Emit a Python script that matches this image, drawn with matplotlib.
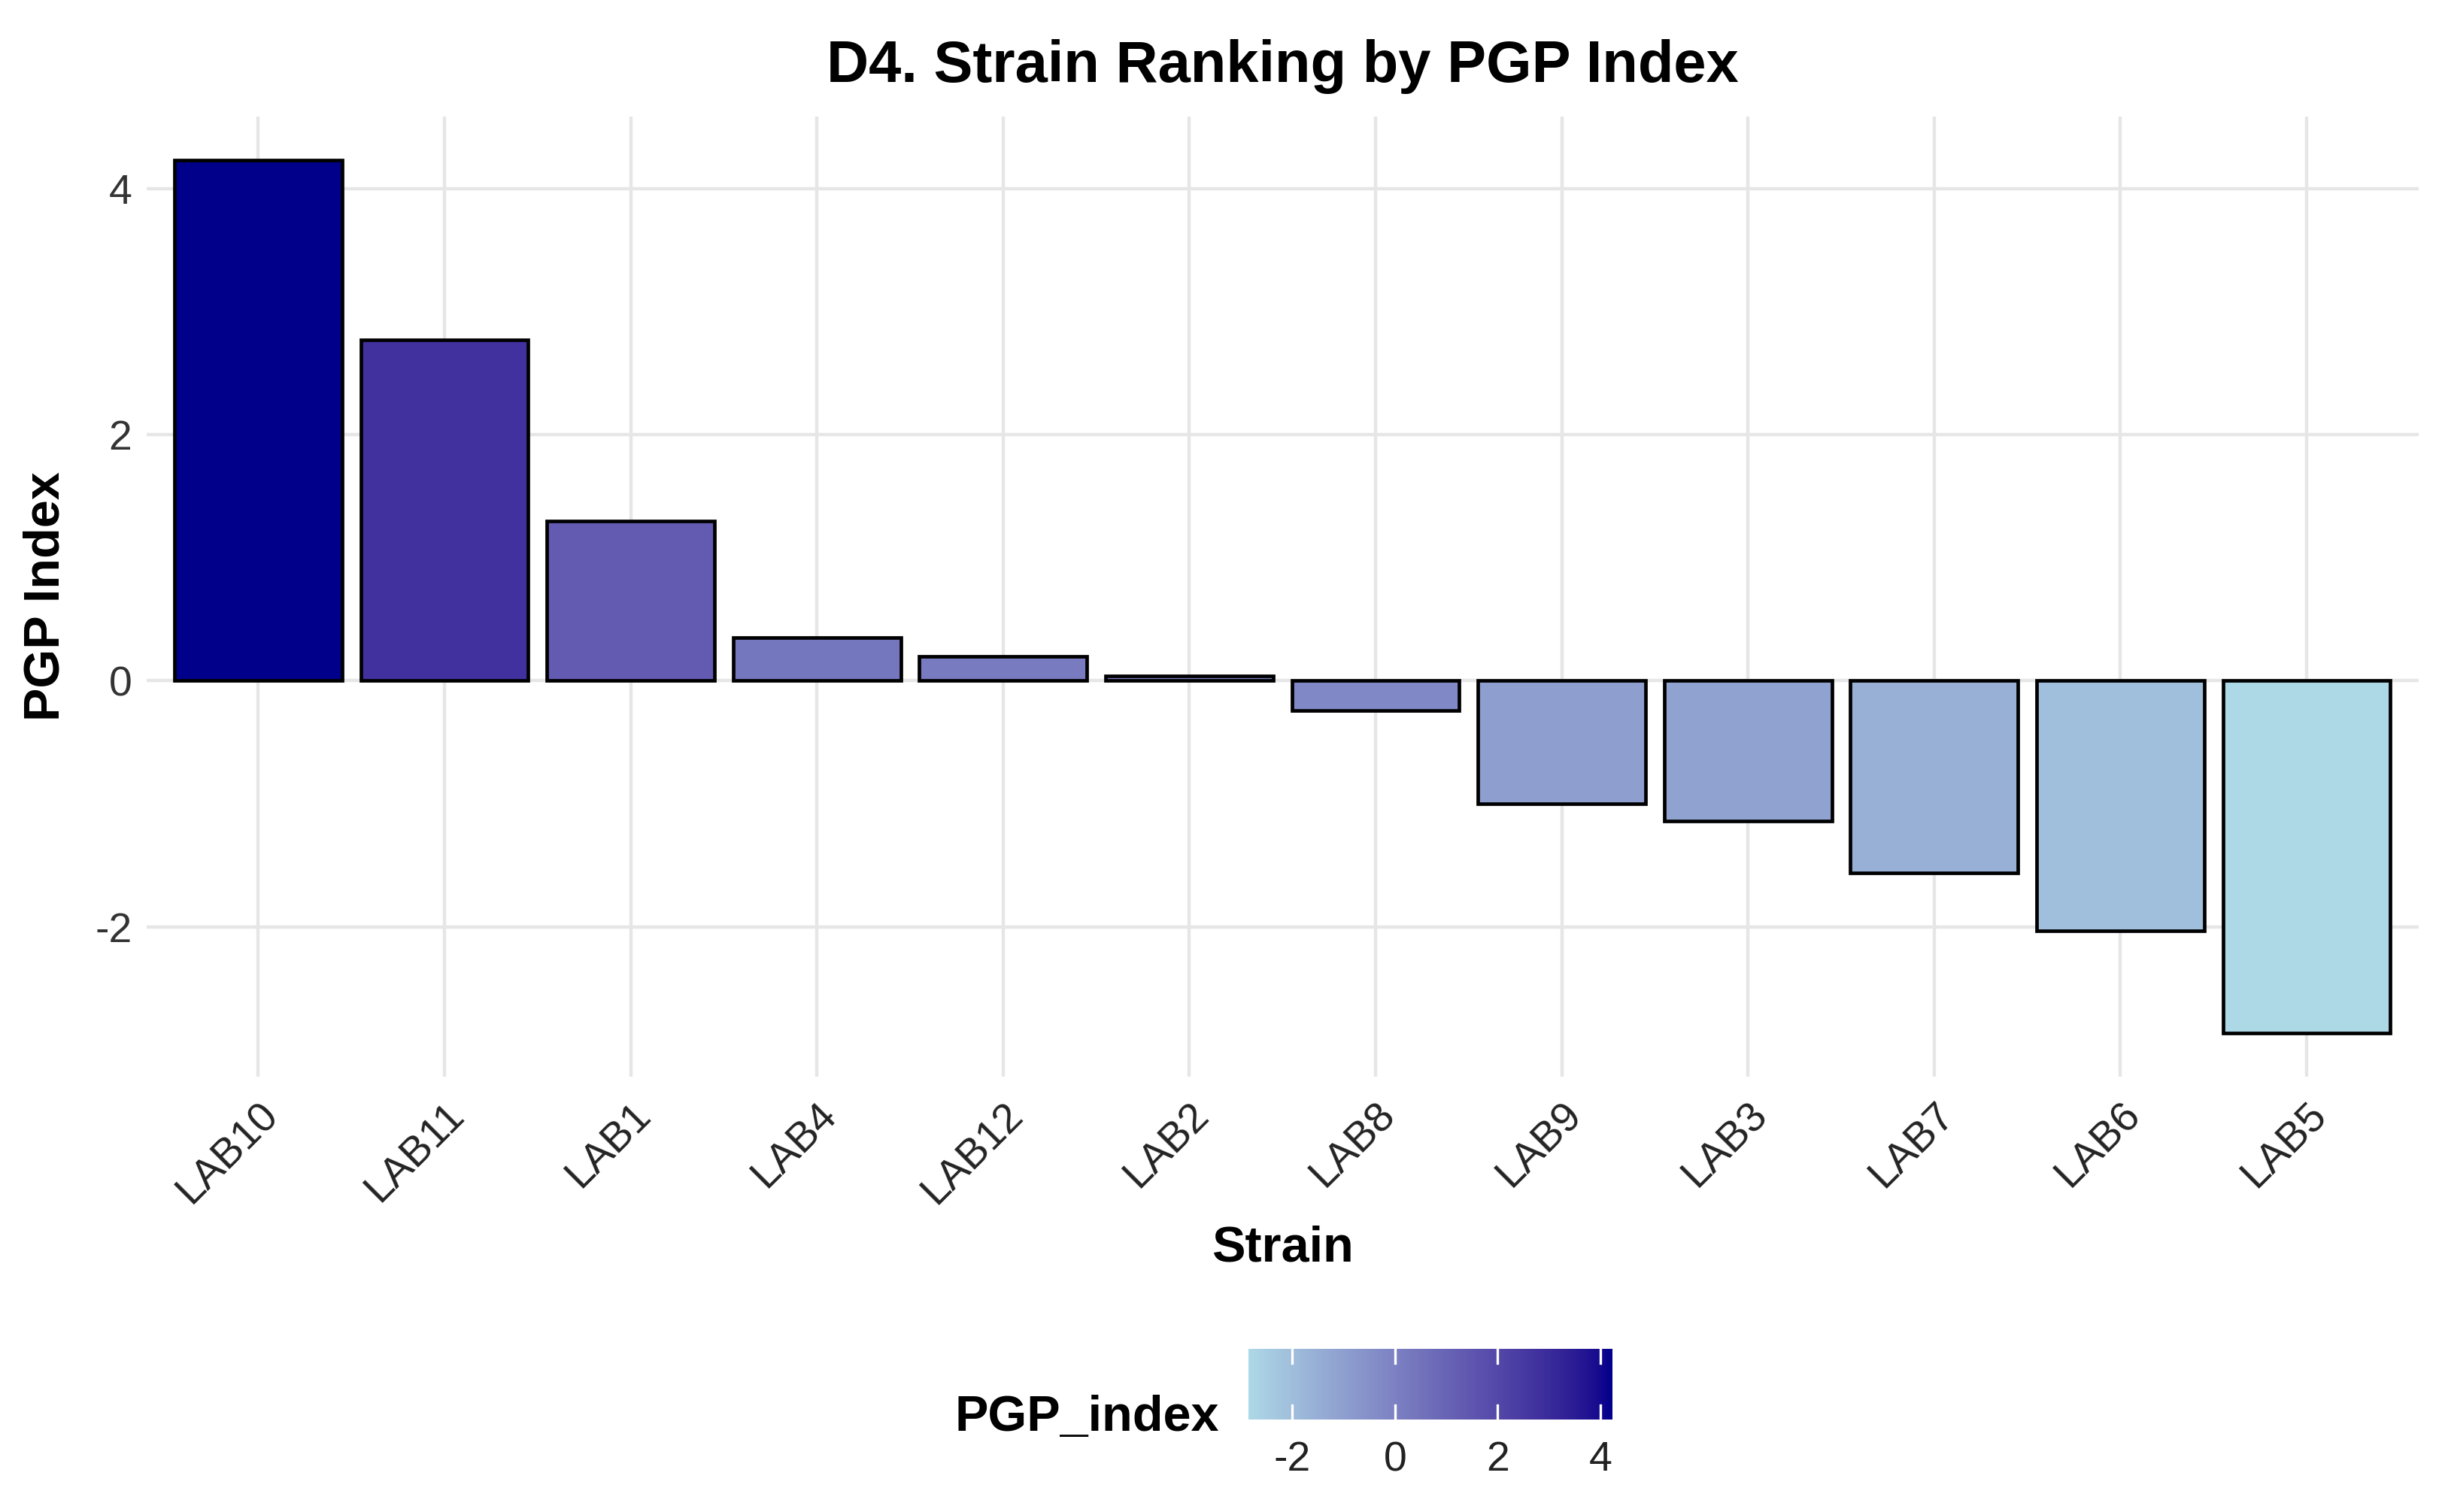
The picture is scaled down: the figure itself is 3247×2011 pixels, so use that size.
import numpy as np
import matplotlib
matplotlib.use('Agg')
import matplotlib.pyplot as plt
from matplotlib.colors import ListedColormap, Normalize, to_rgb
from matplotlib.cm import ScalarMappable

plt.rcParams['font.family'] = ['Liberation Sans', 'DejaVu Sans']

# data
strains = ['LAB10', 'LAB11', 'LAB1', 'LAB4', 'LAB12', 'LAB2',
           'LAB8', 'LAB9', 'LAB3', 'LAB7', 'LAB6', 'LAB5']
pgp_index = [4.23, 2.77, 1.30, 0.35, 0.20, 0.04,
             -0.24, -1.00, -1.14, -1.56, -2.03, -2.86]
y_ticks = [-2, 0, 2, 4]
y_tick_labels = ['-2', '0', '2', '4']


# ggplot style gradient: interpolate lightblue -> darkblue in CIELAB
def srgb_to_lab(c):
    c = np.asarray(c, float)
    lin = np.where(c <= 0.04045, c / 12.92, ((c + 0.055) / 1.055) ** 2.4)
    M = np.array([[0.4124, 0.3576, 0.1805],
                  [0.2126, 0.7152, 0.0722],
                  [0.0193, 0.1192, 0.9505]])
    xyz = M @ lin / np.array([0.95047, 1.0, 1.08883])
    f = np.where(xyz > 0.008856, np.cbrt(xyz), 7.787 * xyz + 16 / 116)
    return np.array([116 * f[1] - 16, 500 * (f[0] - f[1]), 200 * (f[1] - f[2])])


def lab_to_srgb(lab):
    L, a, b = lab
    fy = (L + 16) / 116
    fx = fy + a / 500
    fz = fy - b / 200
    f = np.array([fx, fy, fz])
    xyz = np.where(f ** 3 > 0.008856, f ** 3, (f - 16 / 116) / 7.787)
    xyz = xyz * np.array([0.95047, 1.0, 1.08883])
    Mi = np.array([[3.2406, -1.5372, -0.4986],
                   [-0.9689, 1.8758, 0.0415],
                   [0.0557, -0.2040, 1.0570]])
    lin = Mi @ xyz
    c = np.where(lin <= 0.0031308, 12.92 * lin, 1.055 * np.clip(lin, 0, None) ** (1 / 2.4) - 0.055)
    return np.clip(c, 0, 1)


lo = srgb_to_lab(to_rgb('#ADD8E6'))
hi = srgb_to_lab(to_rgb('#00008B'))
cols = [lab_to_srgb(lo + (hi - lo) * t) for t in np.linspace(0, 1, 256)]
cmap = ListedColormap(cols)
norm = Normalize(vmin=min(pgp_index), vmax=max(pgp_index))

fig = plt.figure(figsize=(16.24, 10.055), dpi=200)
ax = fig.add_axes([0.060, 0.288, 0.930, 0.635])

x = np.arange(len(strains))
ax.bar(x, pgp_index, width=0.9, color=cmap(norm(pgp_index)),
       edgecolor='black', linewidth=1.7, zorder=3)

ax.set_xlim(-0.6, len(strains) - 0.4)
rng = max(pgp_index) - min(pgp_index)
ax.set_ylim(min(pgp_index) - 0.05 * rng, max(pgp_index) + 0.05 * rng)
ax.set_xticks(x)
ax.set_xticklabels(strains, rotation=45, ha='right', va='top',
                   rotation_mode='anchor', fontsize=20, color='#222222')
ax.set_yticks(y_ticks)
ax.set_yticklabels(y_tick_labels, fontsize=20, color='#333333')
ax.tick_params(length=0)
ax.tick_params(axis='y', pad=7)
ax.tick_params(axis='x', pad=9)
ax.grid(True, color='#e6e6e6', linewidth=1.6, zorder=0)
for s in ax.spines.values():
    s.set_visible(False)

ax.set_xlabel('Strain', fontsize=24, fontweight='bold')
ax.xaxis.set_label_coords(0.5, -0.155)
ax.set_ylabel('PGP Index', fontsize=24, fontweight='bold')
ax.yaxis.set_label_coords(-0.034, 0.5)
fig.text(0.060 + 0.930 / 2, 0.946, 'D4. Strain Ranking by PGP Index',
         fontsize=28, fontweight='bold', ha='center', va='baseline')

# colour bar legend at the bottom
cax = fig.add_axes([0.511, 0.061, 0.149, 0.047])
cb = fig.colorbar(ScalarMappable(norm=norm, cmap=cmap), cax=cax,
                  orientation='horizontal', ticks=y_ticks)
cb.outline.set_visible(False)
cb.set_ticklabels(y_tick_labels)
cax.tick_params(length=0, labelsize=20, pad=10, colors='#222222')
for t in y_ticks:
    cax.plot([t, t], [0, 0.2], color='white', linewidth=1.2,
             transform=cax.get_xaxis_transform())
    cax.plot([t, t], [0.8, 1.0], color='white', linewidth=1.2,
             transform=cax.get_xaxis_transform())
fig.text(0.499, 0.062, 'PGP_index', fontsize=24, fontweight='bold',
         ha='right', va='center')

fig.savefig('out.png', dpi=200, facecolor='white')
